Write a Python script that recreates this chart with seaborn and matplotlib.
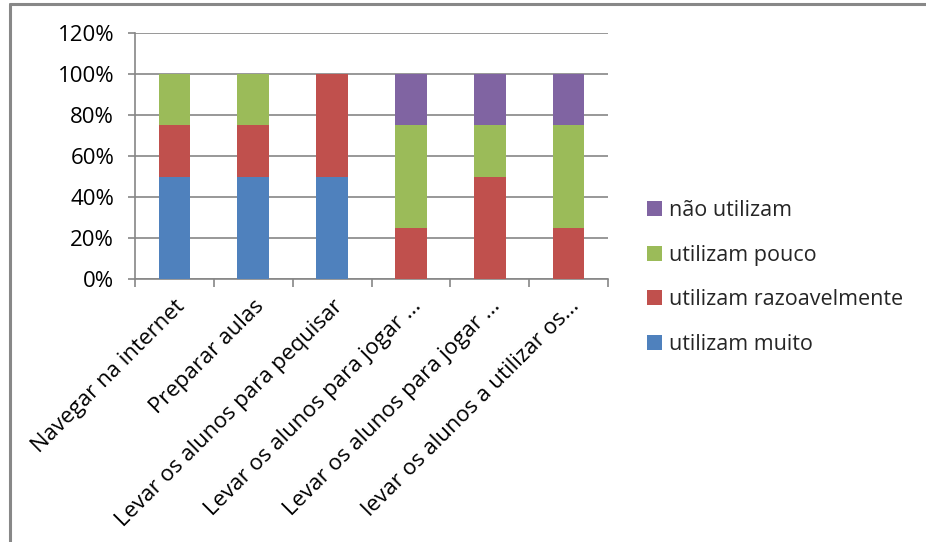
import matplotlib
matplotlib.use("Agg")
import matplotlib.pyplot as plt
from matplotlib.lines import Line2D
from matplotlib.patches import Patch
from matplotlib.ticker import PercentFormatter, FixedLocator
import seaborn as sns
import pandas as pd
import numpy as np

categories = [
    "Navegar na internet",
    "Preparar aulas",
    "Levar os alunos para pequisar",
    "Levar os alunos para jogar ...",
    "Levar os alunos para jogar ...",
    "levar os alunos a utilizar os...",
]
series_names = ["utilizam muito", "utilizam razoavelmente", "utilizam pouco", "não utilizam"]
utilizam_muito = [0.50, 0.50, 0.50, 0.00, 0.00, 0.00]
utilizam_razoavelmente = [0.25, 0.25, 0.50, 0.25, 0.50, 0.25]
utilizam_pouco = [0.25, 0.25, 0.00, 0.50, 0.25, 0.50]
nao_utilizam = [0.00, 0.00, 0.00, 0.25, 0.25, 0.25]
y_ticks = [0.0, 0.2, 0.4, 0.6, 0.8, 1.0, 1.2]

colors = ["#4F81BD", "#C0504D", "#9BBB59", "#8064A2"]

sns.set_theme(style="white")
plt.rcParams["font.family"] = ["Open Sans", "DejaVu Sans"]

fig = plt.figure(figsize=(9.26, 5.42), dpi=100)
ax = fig.add_axes([0.1458, 0.4852, 0.5108, 0.4539])

# unique x keys so repeated category names stay separate bars
keys = [f"c{i}" for i in range(len(categories))]
values = np.array([utilizam_muito, utilizam_razoavelmente, utilizam_pouco, nao_utilizam])
cumulative = np.cumsum(values, axis=0)

# draw stacks from the top down so each lower segment covers the one above
for idx in range(len(series_names) - 1, -1, -1):
    df = pd.DataFrame({"cat": keys, "val": cumulative[idx]})
    sns.barplot(data=df, x="cat", y="val", color=colors[idx], saturation=1,
                width=0.4, ax=ax, order=keys, linewidth=0, zorder=3)

ax.set_xlim(-0.5, len(categories) - 0.5)
ax.set_ylim(0, 1.2)
ax.yaxis.set_major_locator(FixedLocator(y_ticks))
ax.yaxis.set_major_formatter(PercentFormatter(1.0, decimals=0))
ax.grid(axis="y", color="#868686", linewidth=1.2, zorder=0)
ax.set_axisbelow(True)

for s in ["top", "right"]:
    ax.spines[s].set_visible(False)
for s in ["left", "bottom"]:
    ax.spines[s].set_color("#868686")
    ax.spines[s].set_linewidth(1.2)

ax.set_xticks(range(len(categories)))
ax.set_xticklabels(categories, rotation=45, ha="right", rotation_mode="anchor",
                   fontsize=16, color="black")
ax.set_xticks(np.arange(-0.5, len(categories)), minor=True)
ax.tick_params(axis="x", which="major", length=0, pad=12)
ax.tick_params(axis="x", which="minor", length=6, width=1.2, color="#868686",
               direction="out", bottom=True)
ax.tick_params(axis="y", length=5, width=1.2, color="#868686", direction="out",
               left=True, labelsize=16, labelcolor="black", pad=10)
ax.set_xlabel("")
ax.set_ylabel("")

handles = [Patch(facecolor=colors[i], edgecolor="none") for i in range(3, -1, -1)]
labels = [series_names[i] for i in range(3, -1, -1)]
fig.legend(handles, labels, loc="center left", bbox_to_anchor=(0.678, 0.488),
           frameon=False, fontsize=15.5, handlelength=0.7, handleheight=0.7,
           handletextpad=0.3, labelspacing=1.1)

# outer frame (top and left edges)
fig.add_artist(Line2D([0.0105, 1.0], [0.9917, 0.9917], color="#888888", linewidth=2.2,
                      transform=fig.transFigure))
fig.add_artist(Line2D([0.0105, 0.0105], [0.0, 0.9917], color="#888888", linewidth=2.2,
                      transform=fig.transFigure))

fig.savefig("out.png", dpi=100, facecolor="white")
